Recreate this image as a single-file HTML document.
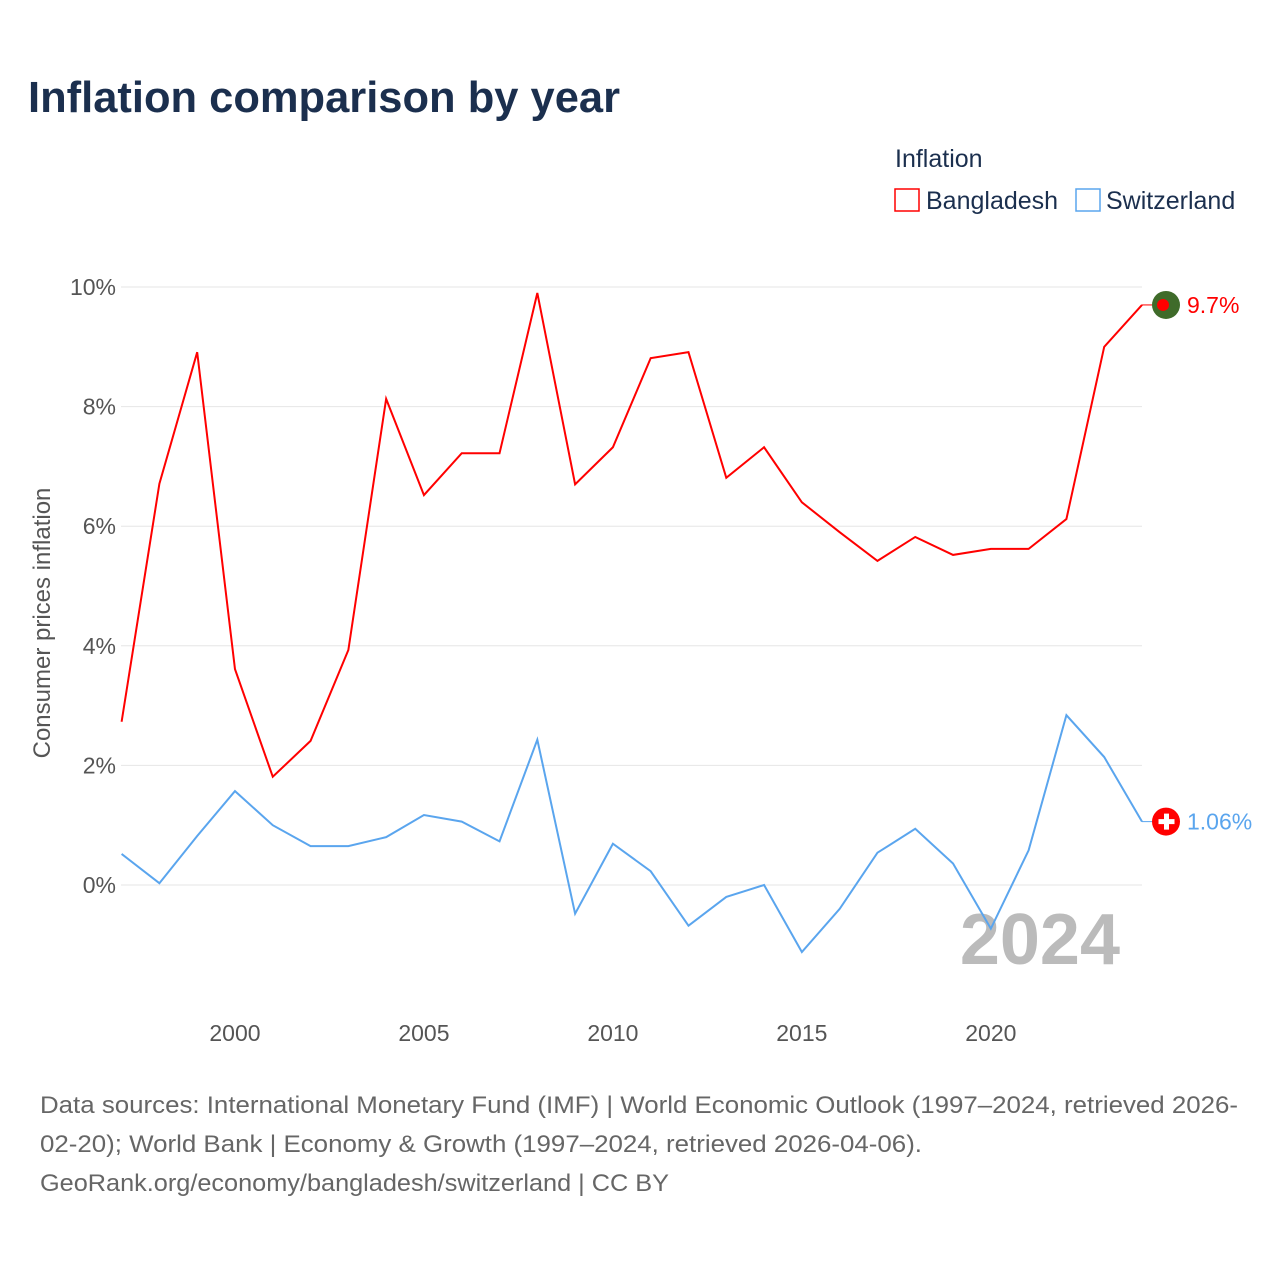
<!DOCTYPE html>
<html><head><meta charset="utf-8"><style>
body{margin:0;background:#fff;font-family:"Liberation Sans",sans-serif}
svg text{font-family:"Liberation Sans",sans-serif}
</style></head><body>
<svg id="chart" width="1280" height="1280" viewBox="0 0 1280 1280">
<text x="28" y="112" font-size="44" font-weight="bold" fill="#1b2f4e" textLength="592" lengthAdjust="spacingAndGlyphs">Inflation comparison by year</text>
<text x="895" y="167" font-size="25" fill="#1b2f4e">Inflation</text>
<g><rect x="895" y="189" width="24" height="22" fill="none" stroke="#ff0000" stroke-width="1.5"/><text x="926" y="209" font-size="25" fill="#1b2f4e">Bangladesh</text></g>
<g><rect x="1076" y="189" width="24" height="22" fill="none" stroke="#5aa5ee" stroke-width="1.5"/><text x="1106" y="209" font-size="25" fill="#1b2f4e">Switzerland</text></g>
<g id="grid"></g>
<g id="yticks"></g>
<g id="xticks"></g>
<text transform="translate(50,623) rotate(-90)" text-anchor="middle" font-size="24" fill="#555">Consumer prices inflation</text>
<text x="1120" y="964" text-anchor="end" font-size="72" font-weight="bold" fill="#bbb">2024</text>
<g id="series"></g>
<text x="40" y="1113" font-size="24" fill="#666" textLength="1198" lengthAdjust="spacingAndGlyphs">Data sources: International Monetary Fund (IMF) | World Economic Outlook (1997–2024, retrieved 2026-</text>
<text x="40" y="1152" font-size="24" fill="#666" textLength="882" lengthAdjust="spacingAndGlyphs">02-20); World Bank | Economy &amp; Growth (1997–2024, retrieved 2026-04-06).</text>
<text x="40" y="1191" font-size="24" fill="#666" textLength="629" lengthAdjust="spacingAndGlyphs">GeoRank.org/economy/bangladesh/switzerland | CC BY</text>
</svg>
<script>
const years=[1997,1998,1999,2000,2001,2002,2003,2004,2005,2006,2007,2008,2009,2010,2011,2012,2013,2014,2015,2016,2017,2018,2019,2020,2021,2022,2023,2024];
const bangladesh=[2.73,6.71,8.91,3.61,1.81,2.41,3.93,8.13,6.52,7.22,7.22,9.9,6.7,7.32,8.81,8.91,6.81,7.32,6.4,5.9,5.42,5.82,5.52,5.62,5.62,6.12,9.0,9.7];
const switzerland=[0.52,0.03,0.82,1.57,1.0,0.65,0.65,0.8,1.17,1.06,0.73,2.43,-0.48,0.69,0.23,-0.68,-0.2,0.0,-1.12,-0.4,0.54,0.94,0.36,-0.73,0.58,2.84,2.14,1.06];
const yTicks=[0,2,4,6,8,10];
const xTicks=[2000,2005,2010,2015,2020];
const NS="http://www.w3.org/2000/svg";
const xs=y=>121.6+(y-1997)*(1142-121.6)/27;
const ys=v=>885-v*59.8;
function mk(t,a,p){const e=document.createElementNS(NS,t);for(const k in a)e.setAttribute(k,a[k]);p.appendChild(e);return e;}
const grid=document.getElementById('grid'),yt=document.getElementById('yticks'),xt=document.getElementById('xticks'),sg=document.getElementById('series');
yTicks.forEach(v=>{
 const l=mk('line',{x1:121,x2:1142,y1:ys(v),y2:ys(v),stroke:'#e6e6e6','stroke-width':1},grid);
 
 
 const t=mk('text',{x:116,y:ys(v)+8,'text-anchor':'end','font-size':23,fill:'#555'},yt);t.textContent=v+'%';
 
 
});
xTicks.forEach(y=>{
 const t=mk('text',{x:xs(y),y:1041,'text-anchor':'middle','font-size':23,fill:'#555'},xt);t.textContent=y;
 
 
});
function series(vals,color,name,label,flag){
 const p=mk('polyline',{points:vals.map((v,i)=>xs(years[i])+','+ys(v)).join(' '),fill:'none',stroke:color,'stroke-width':2},sg);
 
 
 const last=vals[vals.length-1],lx=xs(years[years.length-1]),ly=ys(last);
 mk('line',{x1:lx,x2:lx+10,y1:ly,y2:ly,stroke:color,'stroke-width':1},sg);
 const g=mk('g',{},sg);
 
 
 if(flag==='bd'){mk('circle',{cx:lx+24,cy:ly,r:14,fill:'#3f6b2a'},g);mk('circle',{cx:lx+21,cy:ly,r:6,fill:'#f00'},g);}
 else{mk('circle',{cx:lx+24,cy:ly,r:14,fill:'#f00'},g);mk('rect',{x:lx+22,y:ly-8,width:5,height:16,fill:'#fff'},g);mk('rect',{x:lx+16.5,y:ly-2.5,width:16,height:5,fill:'#fff'},g);}
 const t=mk('text',{x:lx+45,y:ly+8,'font-size':23,fill:color},sg);t.textContent=label;
 
 
}
series(bangladesh,'#ff0000','bangladesh','9.7%','bd');
series(switzerland,'#5aa5ee','switzerland','1.06%','ch');
</script>
</body></html>
